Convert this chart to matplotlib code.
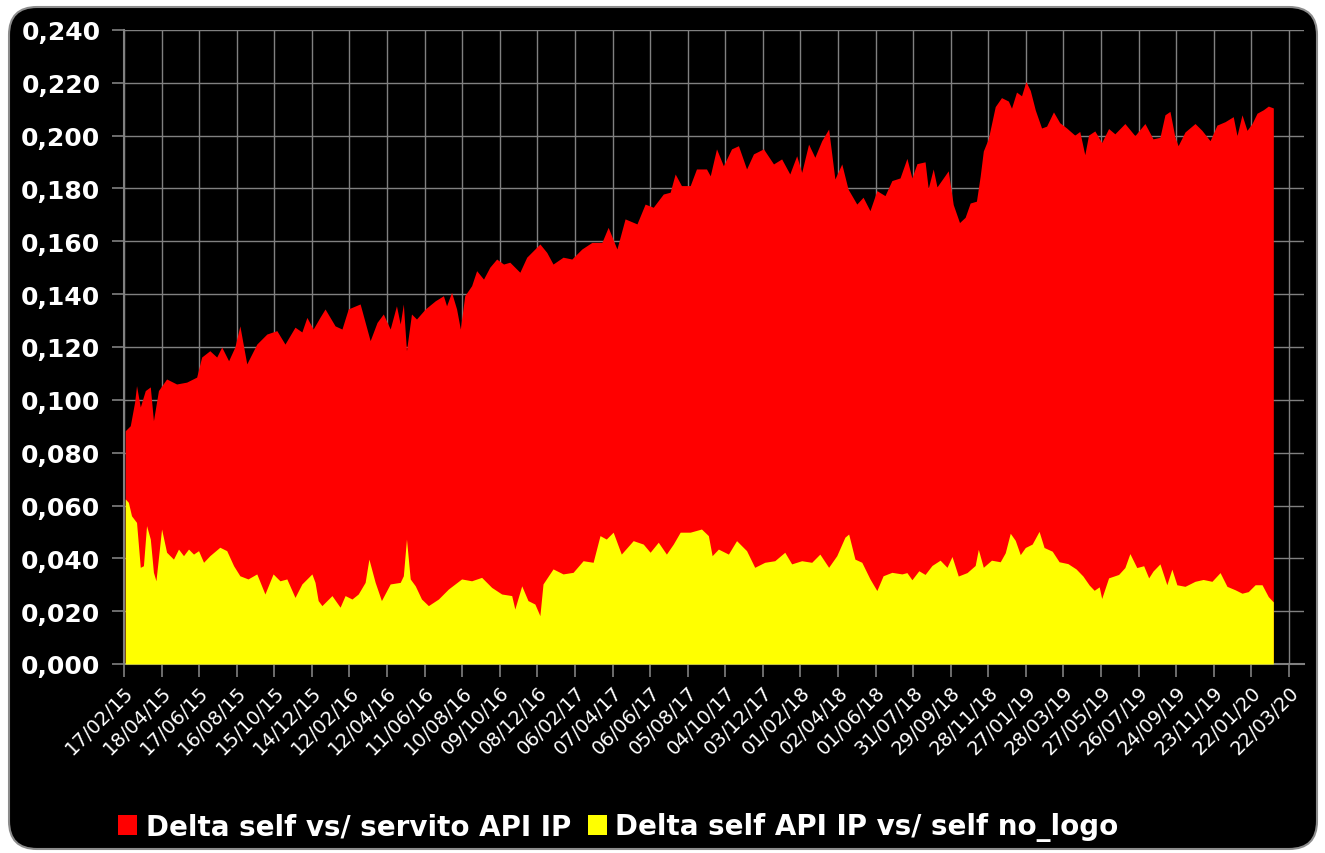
import matplotlib
matplotlib.use("Agg")
import matplotlib.pyplot as plt
import matplotlib.dates as mdates
from matplotlib.patches import FancyBboxPatch, Patch
from matplotlib.ticker import FuncFormatter, MultipleLocator
import pandas as pd

start = pd.Timestamp("2015-02-17")

# days since 17/02/15 and values
red_day = [2, 10, 17, 20, 26, 34, 42, 47, 55, 68, 84, 100, 116, 124, 137, 148, 156, 167, 177, 185,
           196, 212, 228, 244, 257, 273, 284, 292, 302, 313, 321, 337, 348, 358, 377, 393, 404, 414,
           425, 435, 441, 446, 451, 459, 467, 481, 497, 510, 515, 523, 531, 537, 544, 555, 563, 574,
           584, 595, 606, 616, 632, 643, 664, 675, 685, 701, 715, 731, 747, 763, 773, 787, 800, 819,
           832, 845, 861, 872, 880, 890, 904, 914, 930, 936, 946, 957, 970, 981, 994, 1005, 1021,
           1037, 1050, 1063, 1074, 1082, 1093, 1103, 1114, 1125, 1135, 1146, 1156, 1170, 1180, 1191,
           1202, 1215, 1226, 1239, 1250, 1258, 1266, 1279, 1284, 1292, 1298, 1306, 1316, 1324, 1334,
           1343, 1351, 1361, 1367, 1372, 1380, 1391, 1401, 1412, 1417, 1425, 1433, 1440, 1447, 1455,
           1465, 1473, 1484, 1494, 1505, 1518, 1526, 1534, 1540, 1550, 1561, 1572, 1582, 1598, 1614,
           1630, 1643, 1654, 1662, 1670, 1678, 1683, 1694, 1710, 1721, 1734, 1745, 1758, 1771, 1777,
           1785, 1793, 1801, 1809, 1819, 1827, 1835]
red_val = [0.0883, 0.0902, 0.0992, 0.1054, 0.0973, 0.1035, 0.1049, 0.0921, 0.1035, 0.1079, 0.1060,
           0.1067, 0.1086, 0.1162, 0.1186, 0.1162, 0.1200, 0.1148, 0.1200, 0.1280, 0.1136, 0.1211,
           0.1249, 0.1262, 0.1211, 0.1275, 0.1257, 0.1312, 0.1268, 0.1313, 0.1344, 0.1280, 0.1268,
           0.1344, 0.1363, 0.1224, 0.1293, 0.1325, 0.1268, 0.1356, 0.1287, 0.1363, 0.1186, 0.1325,
           0.1306, 0.1344, 0.1375, 0.1394, 0.1356, 0.1407, 0.1344, 0.1268, 0.1394, 0.1432, 0.1489,
           0.1457, 0.1502, 0.1533, 0.1514, 0.1521, 0.1483, 0.1540, 0.1590, 0.1558, 0.1514, 0.1540,
           0.1533, 0.1571, 0.1596, 0.1596, 0.1653, 0.1571, 0.1685, 0.1666, 0.1741, 0.1729, 0.1779,
           0.1786, 0.1855, 0.1811, 0.1811, 0.1874, 0.1874, 0.1848, 0.1950, 0.1886, 0.1950, 0.1962,
           0.1874, 0.1931, 0.1950, 0.1893, 0.1912, 0.1855, 0.1924, 0.1861, 0.1968, 0.1918, 0.1981,
           0.2025, 0.1836, 0.1893, 0.1798, 0.1741, 0.1767, 0.1716, 0.1792, 0.1773, 0.1830, 0.1840,
           0.1914, 0.1840, 0.1894, 0.1901, 0.1800, 0.1874, 0.1806, 0.1833, 0.1867, 0.1739, 0.1671,
           0.1691, 0.1745, 0.1752, 0.1847, 0.1942, 0.1989, 0.2110, 0.2144, 0.2131, 0.2104, 0.2165,
           0.2151, 0.2205, 0.2171, 0.2097, 0.2029, 0.2036, 0.2090, 0.2049, 0.2029, 0.2002, 0.2016,
           0.1928, 0.2002, 0.2018, 0.1974, 0.2027, 0.2007, 0.2046, 0.2000, 0.2046, 0.1988, 0.1994,
           0.2079, 0.2092, 0.1994, 0.1962, 0.2014, 0.2046, 0.2020, 0.1981, 0.2040, 0.2053, 0.2072,
           0.2000, 0.2079, 0.2020, 0.2046, 0.2085, 0.2098, 0.2112, 0.2105]

yellow_day = [2, 7, 12, 20, 26, 31, 36, 42, 47, 51, 60, 68, 79, 87, 95, 103, 111, 119, 127, 137, 153,
              164, 175, 185, 198, 212, 225, 238, 249, 260, 273, 284, 300, 305, 310, 316, 332, 345,
              353, 364, 374, 385, 391, 401, 411, 425, 441, 446, 451, 457, 465, 475, 486, 502, 518,
              539, 555, 571, 587, 603, 619, 624, 635, 645, 656, 664, 669, 685, 701, 717, 733, 749,
              760, 770, 781, 794, 813, 829, 840, 853, 866, 877, 888, 904, 922, 933, 939, 949, 965,
              978, 994, 1007, 1023, 1039, 1055, 1066, 1082, 1098, 1111, 1125, 1138, 1151, 1157, 1167,
              1178, 1191, 1202, 1212, 1226, 1242, 1250, 1258, 1269, 1279, 1290, 1303, 1314, 1322,
              1332, 1346, 1359, 1364, 1372, 1385, 1399, 1407, 1415, 1423, 1431, 1439, 1450, 1461,
              1469, 1482, 1493, 1507, 1520, 1531, 1541, 1549, 1557, 1561, 1572, 1588, 1598, 1606,
              1617, 1628, 1636, 1643, 1654, 1665, 1673, 1681, 1694, 1710, 1723, 1737, 1750, 1761,
              1774, 1785, 1795, 1806, 1817, 1827, 1835]
yellow_val = [0.0625, 0.0612, 0.0561, 0.0536, 0.0366, 0.0372, 0.0524, 0.0473, 0.0347, 0.0315, 0.0511,
              0.0423, 0.0397, 0.0435, 0.0410, 0.0435, 0.0416, 0.0429, 0.0385, 0.0410, 0.0442, 0.0429,
              0.0372, 0.0334, 0.0322, 0.0341, 0.0265, 0.0341, 0.0315, 0.0322, 0.0252, 0.0303, 0.0341,
              0.0309, 0.0240, 0.0221, 0.0259, 0.0215, 0.0259, 0.0246, 0.0265, 0.0309, 0.0397, 0.0309,
              0.0240, 0.0303, 0.0309, 0.0334, 0.0473, 0.0322, 0.0296, 0.0246, 0.0221, 0.0246, 0.0284,
              0.0322, 0.0315, 0.0328, 0.0290, 0.0265, 0.0259, 0.0208, 0.0296, 0.0240, 0.0227, 0.0183,
              0.0303, 0.0360, 0.0341, 0.0347, 0.0391, 0.0385, 0.0486, 0.0473, 0.0499, 0.0416, 0.0467,
              0.0454, 0.0423, 0.0461, 0.0416, 0.0454, 0.0499, 0.0499, 0.0511, 0.0486, 0.0410, 0.0435,
              0.0416, 0.0467, 0.0429, 0.0366, 0.0385, 0.0391, 0.0423, 0.0379, 0.0391, 0.0385, 0.0416,
              0.0366, 0.0410, 0.0480, 0.0492, 0.0397, 0.0385, 0.0322, 0.0278, 0.0334, 0.0347, 0.0341,
              0.0346, 0.0319, 0.0353, 0.0339, 0.0373, 0.0393, 0.0366, 0.0407, 0.0333, 0.0346, 0.0373,
              0.0434, 0.0366, 0.0393, 0.0387, 0.0421, 0.0495, 0.0468, 0.0414, 0.0441, 0.0454, 0.0502,
              0.0441, 0.0427, 0.0387, 0.0380, 0.0360, 0.0333, 0.0299, 0.0279, 0.0292, 0.0248, 0.0326,
              0.0339, 0.0365, 0.0418, 0.0365, 0.0372, 0.0326, 0.0352, 0.0379, 0.0300, 0.0359, 0.0300,
              0.0294, 0.0313, 0.0320, 0.0313, 0.0346, 0.0294, 0.0281, 0.0268, 0.0274, 0.0300, 0.0300,
              0.0255, 0.0235]

legend_labels = ["Delta self vs/ servito API IP", "Delta self API IP vs/ self no_logo"]

red_dates = start + pd.to_timedelta(red_day, unit="D")
yellow_dates = start + pd.to_timedelta(yellow_day, unit="D")
tick_dates = [start + pd.Timedelta(days=60 * i) for i in range(32)]

fig = plt.figure(figsize=(13.25, 8.54), dpi=100, facecolor="white")

# rounded black panel behind everything
panel = FancyBboxPatch((0.09, 0.04), 13.08, 8.42,
                       boxstyle="round,pad=0,rounding_size=0.28",
                       transform=fig.dpi_scale_trans,
                       facecolor="black", edgecolor="#8c8c8c", linewidth=1.5, zorder=-10)
fig.patches.append(panel)

ax = fig.add_axes([124 / 1325, 1 - 665 / 854, (1304 - 124) / 1325, (665 - 31) / 854])
ax.set_facecolor("black")

ax.fill_between(red_dates, 0, red_val, color="#ff0000", linewidth=0, zorder=2)
ax.fill_between(yellow_dates, 0, yellow_val, color="#ffff00", linewidth=0, zorder=3)

ax.set_ylim(0, 0.24)
ax.yaxis.set_major_locator(MultipleLocator(0.02))
ax.yaxis.set_major_formatter(FuncFormatter(lambda v, p: f"{v:.3f}".replace(".", ",")))

ax.set_xlim(start, start + pd.Timedelta(days=1884))
ax.set_xticks(tick_dates)
ax.xaxis.set_major_formatter(mdates.DateFormatter("%d/%m/%y"))

ax.set_axisbelow(True)
ax.grid(True, color="#808080", linewidth=1.0)
for side in ["top", "right"]:
    ax.spines[side].set_visible(False)
for side in ["left", "bottom"]:
    ax.spines[side].set_color("#808080")
    ax.spines[side].set_linewidth(1.5)

ax.tick_params(axis="both", colors="#808080", length=9, width=1.2)
ax.tick_params(axis="y", labelcolor="white", labelsize=18, pad=8)
ax.tick_params(axis="x", labelcolor="white", labelsize=14, pad=4)
for lbl in ax.get_yticklabels():
    lbl.set_fontweight("bold")
for lbl in ax.get_xticklabels():
    lbl.set_rotation(45)
    lbl.set_ha("right")
    lbl.set_rotation_mode("anchor")

handles = [Patch(facecolor="#ff0000"), Patch(facecolor="#ffff00")]
leg = fig.legend(handles, legend_labels, loc="center left",
                 bbox_to_anchor=(93 / 1325, 1 - 828 / 854), ncol=2, frameon=False,
                 handlelength=0.7, handleheight=0.7, handletextpad=0.3, columnspacing=0.6,
                 prop={"weight": "bold", "size": 20})
for t in leg.get_texts():
    t.set_color("white")

fig.savefig("out.png", dpi=100, facecolor="white")
